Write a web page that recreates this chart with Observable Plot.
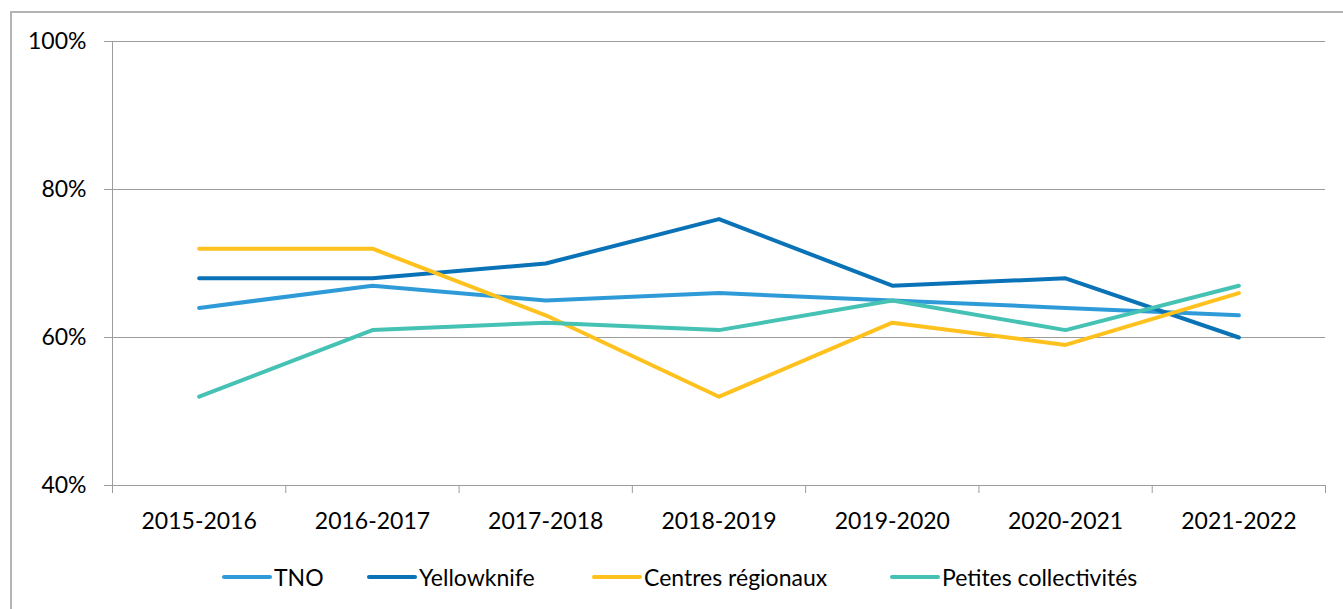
<!DOCTYPE html>
<html>
<head>
<meta charset="utf-8">
<script src="https://cdn.jsdelivr.net/npm/d3@7"></script>
<script src="https://cdn.jsdelivr.net/npm/@observablehq/plot@0.6"></script>
<style>
  html, body { margin: 0; padding: 0; background: #fff; }
  #wrap { position: relative; width: 1343px; height: 609px; overflow: hidden; font-family: Lato, "Open Sans", sans-serif; }
  #frame { position: absolute; left: 10px; top: 11px; width: 1400px; height: 700px; border-left: 2px solid #b4b4b4; border-top: 2px solid #b4b4b4; }
  #chart { position: absolute; left: 0; top: 0; }
  #legend { position: absolute; left: 0; top: 564px; width: 1343px; height: 26px; font-size: 23px; color: #000; white-space: nowrap; }
  .item { position: absolute; top: 0; display: flex; align-items: center; height: 26px; }
  .sw { width: 50px; height: 4px; border-radius: 2px; margin-right: 2px; }
</style>
</head>
<body>
<div id="wrap">
  <div id="frame"></div>
  <div id="chart"></div>
  <div id="legend"></div>
</div>
<script>
const categories = ["2015-2016", "2016-2017", "2017-2018", "2018-2019", "2019-2020", "2020-2021", "2021-2022"];
const seriesNames = ["TNO", "Yellowknife", "Centres régionaux", "Petites collectivités"];
const seriesColors = ["#2e9bd8", "#0a72b6", "#ffc11e", "#45c2b4"];
const tno = [64, 67, 65, 66, 65, 64, 63];
const yellowknife = [68, 68, 70, 76, 67, 68, 60];
const centres = [72, 72, 63, 52, 62, 59, 66];
const petites = [52, 61, 62, 61, 65, 61, 67];
const yTicks = [0.4, 0.6, 0.8, 1.0];

const seriesValues = [tno, yellowknife, centres, petites];
const rows = [];
seriesNames.forEach((s, k) => {
  seriesValues[k].forEach((v, i) => rows.push({series: s, i, v: v / 100}));
});
const idx = categories.map((_, i) => i);
const bounds = [...categories.map((_, i) => i - 0.5), categories.length - 0.5];
const grey = "#9c9c9c";

const chart = Plot.plot({
  width: 1343,
  height: 545,
  marginLeft: 112,
  marginRight: 18,
  marginTop: 41,
  marginBottom: 60,
  style: {fontFamily: "Lato, 'Open Sans', sans-serif", fontSize: "23px", color: "#000", background: "transparent", overflow: "visible"},
  x: {type: "linear", domain: [-0.5, categories.length - 0.5], label: null},
  y: {domain: [0.4, 1.0], label: null},
  color: {domain: seriesNames, range: seriesColors},
  marks: [
    Plot.gridY(yTicks, {stroke: grey, strokeOpacity: 1, strokeWidth: 1}),
    Plot.ruleX([-0.5], {y1: 0.4, y2: 1.0, stroke: grey, strokeWidth: 1}),
    Plot.axisY(yTicks, {tickSize: 8, tickPadding: 18, tickFormat: d3.format(".0%"), stroke: grey, fill: "#000", fontSize: 23, label: null}),
    Plot.axisX(bounds, {tickSize: 8, tickFormat: () => "", stroke: grey, label: null}),
    Plot.axisX(idx, {tickSize: 0, tickPadding: 27, tickFormat: i => categories[i], fill: "#000", fontSize: 23, label: null}),
    Plot.line(rows, {x: "i", y: "v", z: "series", stroke: "series", strokeWidth: 4, strokeLinecap: "round", strokeLinejoin: "round"})
  ]
});
document.getElementById("chart").appendChild(chart);

const legendLeft = [222, 367, 592, 890];
const legend = document.getElementById("legend");
seriesNames.forEach((s, k) => {
  const it = document.createElement("div");
  it.className = "item";
  it.style.left = legendLeft[k] + "px";
  const sw = document.createElement("div");
  sw.className = "sw";
  sw.style.background = seriesColors[k];
  const t = document.createElement("span");
  t.textContent = s;
  it.appendChild(sw);
  it.appendChild(t);
  legend.appendChild(it);
});
</script>
</body>
</html>
